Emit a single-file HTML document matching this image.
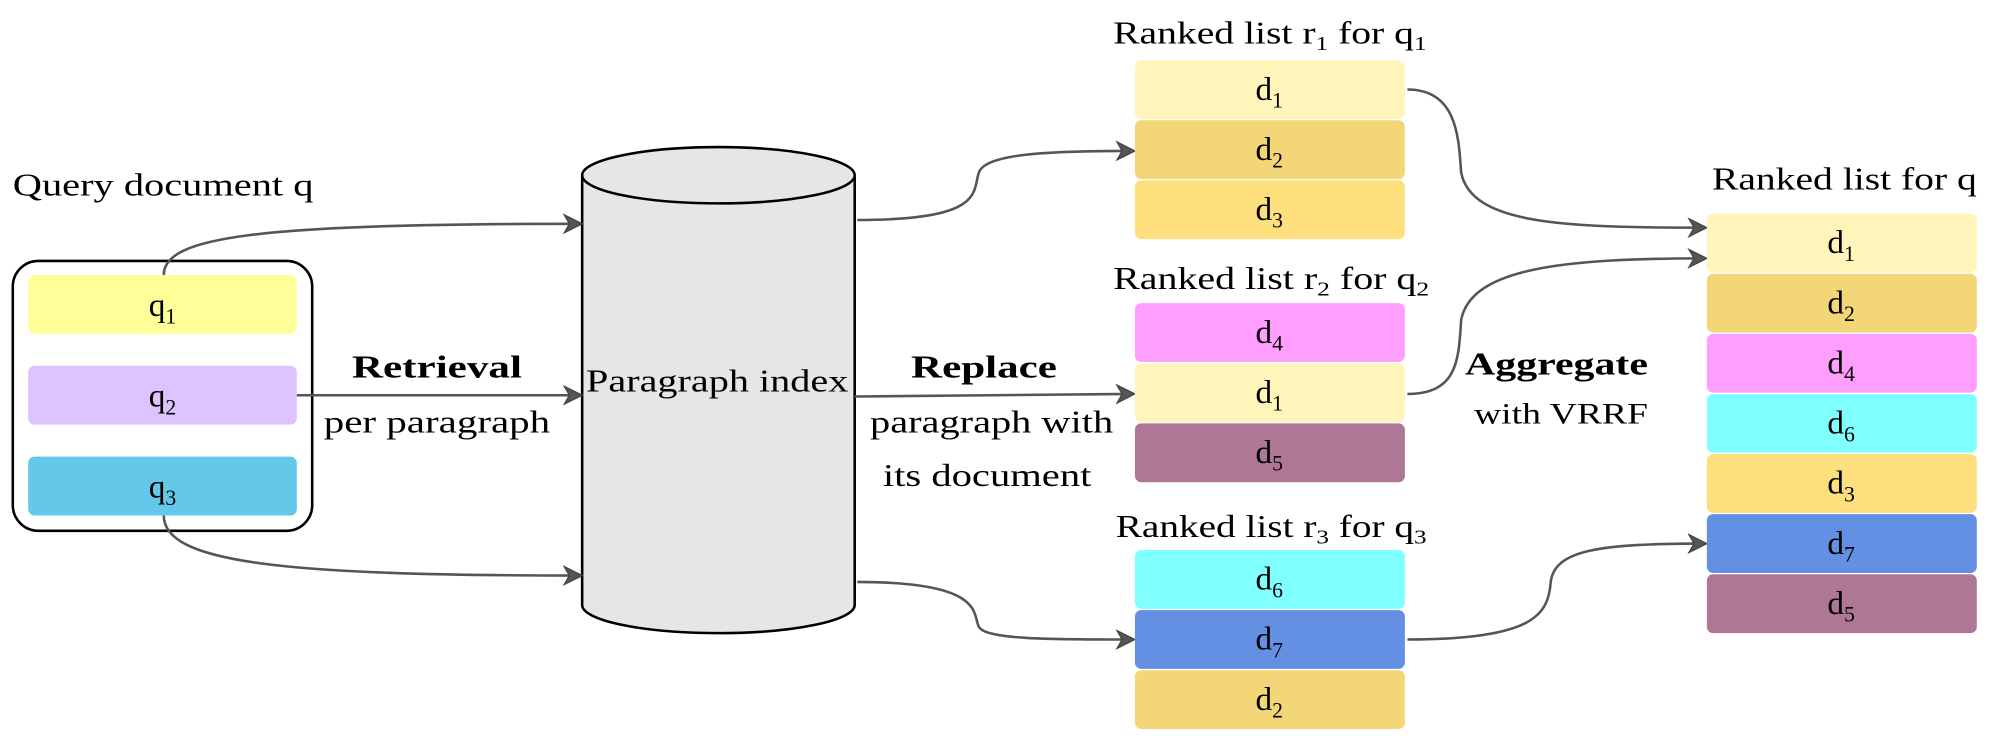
<!DOCTYPE html>
<html><head><style>
html,body{margin:0;padding:0;background:#fff;}
svg{display:block;}
text{font-family:"Liberation Serif","DejaVu Serif",serif;fill:#000;}
</style></head><body>
<svg width="1996" height="738" viewBox="0 0 1560 577" preserveAspectRatio="none" xmlns="http://www.w3.org/2000/svg" font-family="Liberation Serif, serif">
<defs>
<marker id="a" markerWidth="16" markerHeight="16" refX="13" refY="8" orient="auto" markerUnits="userSpaceOnUse">
<path d="M1,1 L15,8 L1,15 L5,8 Z" fill="#555" stroke="#444" stroke-width="1"/>
</marker>
</defs>
<text x="10" y="153" font-size="25" textLength="235" lengthAdjust="spacingAndGlyphs">Query document q</text>
<rect x="10" y="204" width="234" height="211" rx="20" fill="#fff" stroke="#000" stroke-width="2"/>
<rect x="22" y="215" width="210" height="46" rx="5" fill="#FFFF99"/>
<rect x="22" y="286" width="210" height="46" rx="5" fill="#DDC3FF"/>
<rect x="22" y="357" width="210" height="46" rx="5" fill="#64C9E8"/>
<g font-size="26" text-anchor="middle">
<text x="127" y="247">q<tspan font-size="17" dy="6">1</tspan></text>
<text x="127" y="318">q<tspan font-size="17" dy="6">2</tspan></text>
<text x="127" y="389">q<tspan font-size="17" dy="6">3</tspan></text>
</g>
<path d="M455,137 L455,473 A106.5,22 0 0 0 668,473 L668,137" fill="#e6e6e6" stroke="#000" stroke-width="2"/>
<ellipse cx="561.5" cy="137" rx="106.5" ry="22" fill="#e6e6e6" stroke="#000" stroke-width="2"/>
<text x="458" y="306" font-size="25" textLength="205" lengthAdjust="spacingAndGlyphs">Paragraph index</text>
<g fill="none" stroke="#555" stroke-width="2" marker-end="url(#a)">
<path d="M128,215 C128,185 200,175 453,175"/>
<path d="M232,309 L453,309"/>
<path d="M128,403 C128,440 220,450 453,450"/>
<path d="M670,172 C770,172 760,150 765,135 C770,120 820,118 885,118"/>
<path d="M668,310 L885,308"/>
<path d="M670,455 C770,455 760,480 765,490 C770,500 820,500 885,500"/>
<path d="M1100,70 C1140,70 1140,110 1142,135 C1150,175 1220,178 1332,178"/>
<path d="M1100,308 C1140,308 1140,280 1142,250 C1150,210 1220,202 1332,202"/>
<path d="M1100,500 C1200,500 1210,480 1212,455 C1215,430 1250,425 1332,425"/>
</g>
<g font-size="25">
<text x="275" y="295" font-weight="bold" textLength="133" lengthAdjust="spacingAndGlyphs">Retrieval</text>
<text x="253" y="338" textLength="177" lengthAdjust="spacingAndGlyphs">per paragraph</text>
<text x="712" y="295" font-weight="bold" textLength="114" lengthAdjust="spacingAndGlyphs">Replace</text>
<text x="680" y="338" textLength="190" lengthAdjust="spacingAndGlyphs">paragraph with</text>
<text x="690" y="380" textLength="163" lengthAdjust="spacingAndGlyphs">its document</text>
<text x="1145" y="293" font-weight="bold" textLength="143" lengthAdjust="spacingAndGlyphs">Aggregate</text>
<text x="1152" y="331" font-size="23" textLength="136" lengthAdjust="spacingAndGlyphs">with VRRF</text>
<text x="870" y="34" textLength="245" lengthAdjust="spacingAndGlyphs">Ranked list r<tspan font-size="16" dy="5">1</tspan><tspan dy="-5"> for q</tspan><tspan font-size="16" dy="5">1</tspan></text>
<text x="870" y="226" textLength="247" lengthAdjust="spacingAndGlyphs">Ranked list r<tspan font-size="16" dy="5">2</tspan><tspan dy="-5"> for q</tspan><tspan font-size="16" dy="5">2</tspan></text>
<text x="872" y="420" textLength="243" lengthAdjust="spacingAndGlyphs">Ranked list r<tspan font-size="16" dy="5">3</tspan><tspan dy="-5"> for q</tspan><tspan font-size="16" dy="5">3</tspan></text>
<text x="1338" y="148" textLength="207" lengthAdjust="spacingAndGlyphs">Ranked list for q</text>
</g>
<g>
<rect x="887" y="47" width="211" height="46" rx="5" fill="#FFF5BB"/>
<rect x="887" y="94" width="211" height="46" rx="5" fill="#F3D677"/>
<rect x="887" y="141" width="211" height="46" rx="5" fill="#FDDF7E"/>
<rect x="887" y="237" width="211" height="46" rx="5" fill="#FF9EFF"/>
<rect x="887" y="284" width="211" height="46" rx="5" fill="#FFF5BB"/>
<rect x="887" y="331" width="211" height="46" rx="5" fill="#AD7795"/>
<rect x="887" y="430" width="211" height="46" rx="5" fill="#80FFFF"/>
<rect x="887" y="477" width="211" height="46" rx="5" fill="#6490E4"/>
<rect x="887" y="524" width="211" height="46" rx="5" fill="#F3D677"/>
<rect x="1334" y="167" width="211" height="46" rx="5" fill="#FFF5BB"/>
<rect x="1334" y="214" width="211" height="46" rx="5" fill="#F3D677"/>
<rect x="1334" y="261" width="211" height="46" rx="5" fill="#FF9EFF"/>
<rect x="1334" y="308" width="211" height="46" rx="5" fill="#80FFFF"/>
<rect x="1334" y="355" width="211" height="46" rx="5" fill="#FDDF7E"/>
<rect x="1334" y="402" width="211" height="46" rx="5" fill="#6490E4"/>
<rect x="1334" y="449" width="211" height="46" rx="5" fill="#AD7795"/>
</g>
<g font-size="26" text-anchor="middle">
<text x="992" y="78">d<tspan font-size="17" dy="6">1</tspan></text>
<text x="992" y="125">d<tspan font-size="17" dy="6">2</tspan></text>
<text x="992" y="172">d<tspan font-size="17" dy="6">3</tspan></text>
<text x="992" y="268">d<tspan font-size="17" dy="6">4</tspan></text>
<text x="992" y="315">d<tspan font-size="17" dy="6">1</tspan></text>
<text x="992" y="362">d<tspan font-size="17" dy="6">5</tspan></text>
<text x="992" y="461">d<tspan font-size="17" dy="6">6</tspan></text>
<text x="992" y="508">d<tspan font-size="17" dy="6">7</tspan></text>
<text x="992" y="555">d<tspan font-size="17" dy="6">2</tspan></text>
<text x="1439" y="198">d<tspan font-size="17" dy="6">1</tspan></text>
<text x="1439" y="245">d<tspan font-size="17" dy="6">2</tspan></text>
<text x="1439" y="292">d<tspan font-size="17" dy="6">4</tspan></text>
<text x="1439" y="339">d<tspan font-size="17" dy="6">6</tspan></text>
<text x="1439" y="386">d<tspan font-size="17" dy="6">3</tspan></text>
<text x="1439" y="433">d<tspan font-size="17" dy="6">7</tspan></text>
<text x="1439" y="480">d<tspan font-size="17" dy="6">5</tspan></text>
</g>
</svg>
</body></html>
